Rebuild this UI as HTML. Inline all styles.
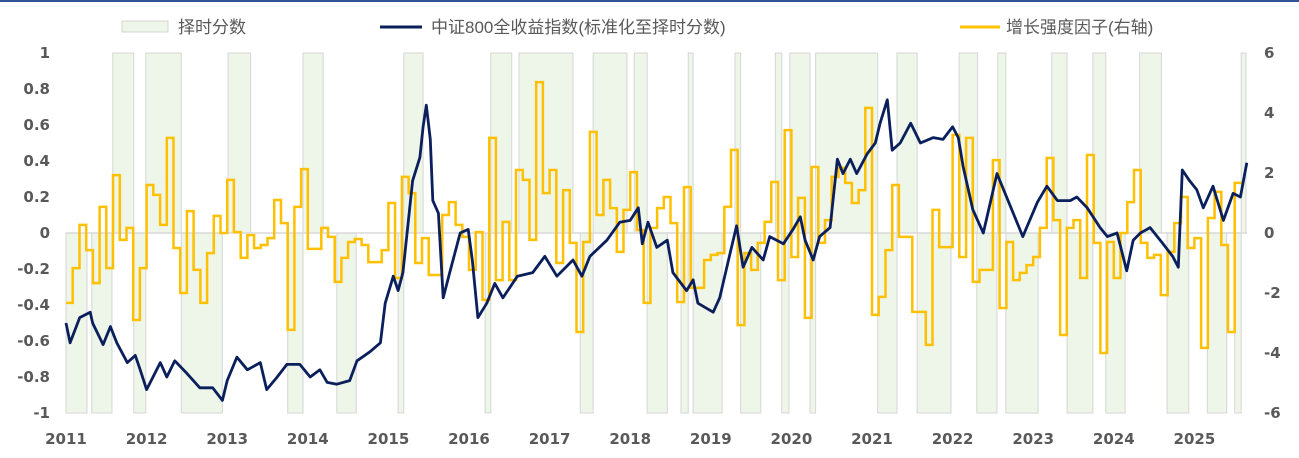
<!DOCTYPE html>
<html><head><meta charset="utf-8"><style>
html,body{margin:0;padding:0;background:#fff;}
body{width:1299px;height:453px;overflow:hidden;position:relative;font-family:"Liberation Sans","Noto Sans CJK SC",sans-serif;}
svg text{font-family:"DejaVu Sans","Liberation Sans",sans-serif;}
.lg{font-family:"Liberation Sans","Noto Sans CJK SC",sans-serif;font-size:17px;fill:#595959;}
</style></head><body>
<svg id="chart" width="1299" height="453" viewBox="0 0 1299 453" xmlns="http://www.w3.org/2000/svg">
<rect x="0" y="0" width="1299" height="2" fill="#2f5597"/>
<g id="legend">
<g>
<rect x="122" y="21" width="46" height="11" fill="#edf6e8" stroke="#d4d4d4"/>
<text class="lg" x="178" y="33">择时分数</text></g>
<g>
<line x1="380" y1="27" x2="422" y2="27" stroke="#0a1f5c" stroke-width="3"/>
<text class="lg" x="431" y="33">中证800全收益指数(标准化至择时分数)</text></g>
<g>
<line x1="960" y1="27" x2="1000" y2="27" stroke="#ffc000" stroke-width="3"/>
<text class="lg" x="1006" y="33">增长强度因子(右轴)</text></g>
</g>
<g id="bands"></g>
<line x1="66" y1="233" x2="1247" y2="233" stroke="#d9d9d9" stroke-width="1.5"/>
<g id="axes"></g>
<path id="yellow" fill="none" stroke="#ffc000" stroke-width="2.5" stroke-linejoin="miter"/>
<path id="blue" fill="none" stroke="#0a1f5c" stroke-width="2.8" stroke-linejoin="round"/>
</svg>
<script>
const leftTicks=[1,0.8,0.6,0.4,0.2,0,-0.2,-0.4,-0.6,-0.8,-1];
const leftTickLabels=["1","0.8","0.6","0.4","0.2","0","-0.2","-0.4","-0.6","-0.8","-1"];
const rightTicks=[6,4,2,0,-2,-4,-6];
const years=[2011,2012,2013,2014,2015,2016,2017,2018,2019,2020,2021,2022,2023,2024,2025];
const bandStart=[2011.05,2011.37,2011.63,2011.89,2012.04,2012.48,2013.06,2013.80,2013.99,2014.41,2015.17,2015.24,2016.25,2016.32,2016.67,2017.43,2017.59,2018.10,2018.26,2018.68,2018.77,2018.83,2019.35,2019.42,2019.85,2019.93,2020.03,2020.28,2020.35,2021.12,2021.36,2021.61,2022.13,2022.35,2022.61,2022.71,2023.28,2023.47,2023.79,2023.95,2024.37,2024.71,2025.21,2025.55,2025.63];
const bandEnd=[2011.31,2011.62,2011.89,2012.04,2012.48,2012.99,2013.34,2013.99,2014.24,2014.65,2015.24,2015.48,2016.32,2016.58,2017.34,2017.59,2018.01,2018.26,2018.51,2018.77,2018.83,2019.19,2019.42,2019.67,2019.93,2020.02,2020.28,2020.35,2021.12,2021.36,2021.61,2022.03,2022.36,2022.60,2022.71,2023.11,2023.47,2023.79,2023.95,2024.19,2024.64,2024.98,2025.45,2025.63,2025.69];
const bandScore=[-1,-1,1,-1,1,-1,1,-1,1,-1,-1,1,-1,1,1,-1,1,1,-1,-1,1,-1,1,-1,1,-1,1,-1,1,-1,1,-1,1,-1,1,-1,1,-1,1,-1,1,-1,-1,-1,1];
const idxDates=[2011.05,2011.10,2011.22,2011.35,2011.38,2011.51,2011.60,2011.68,2011.81,2011.91,2011.97,2012.05,2012.22,2012.30,2012.40,2012.55,2012.71,2012.87,2012.99,2013.05,2013.17,2013.30,2013.46,2013.54,2013.67,2013.79,2013.95,2014.08,2014.20,2014.29,2014.41,2014.57,2014.66,2014.82,2014.95,2015.01,2015.11,2015.17,2015.23,2015.35,2015.44,2015.48,2015.52,2015.57,2015.60,2015.67,2015.73,2015.81,2015.94,2016.04,2016.09,2016.16,2016.27,2016.37,2016.47,2016.65,2016.84,2016.99,2017.14,2017.34,2017.45,2017.55,2017.76,2017.92,2018.05,2018.15,2018.20,2018.27,2018.38,2018.51,2018.58,2018.75,2018.83,2018.89,2019.08,2019.16,2019.29,2019.37,2019.45,2019.56,2019.70,2019.78,2019.95,2020.07,2020.16,2020.22,2020.32,2020.40,2020.53,2020.62,2020.69,2020.78,2020.86,2020.99,2021.09,2021.15,2021.24,2021.30,2021.40,2021.53,2021.65,2021.81,2021.93,2022.05,2022.12,2022.18,2022.30,2022.43,2022.60,2022.72,2022.92,2023.10,2023.22,2023.35,2023.51,2023.59,2023.72,2023.88,2023.97,2024.09,2024.21,2024.29,2024.38,2024.50,2024.66,2024.78,2024.85,2024.90,2024.99,2025.08,2025.16,2025.28,2025.41,2025.53,2025.62,2025.70];
const idxValues=[-0.50,-0.61,-0.47,-0.44,-0.50,-0.62,-0.52,-0.61,-0.72,-0.68,-0.76,-0.87,-0.72,-0.80,-0.71,-0.78,-0.86,-0.86,-0.93,-0.82,-0.69,-0.76,-0.72,-0.87,-0.80,-0.73,-0.73,-0.80,-0.76,-0.83,-0.84,-0.82,-0.71,-0.66,-0.61,-0.39,-0.24,-0.32,-0.22,0.29,0.42,0.59,0.71,0.52,0.18,0.11,-0.36,-0.22,0,0.02,-0.15,-0.47,-0.39,-0.28,-0.36,-0.24,-0.22,-0.13,-0.24,-0.15,-0.24,-0.13,-0.04,0.06,0.07,0.14,-0.06,0.06,-0.08,-0.04,-0.22,-0.32,-0.26,-0.39,-0.44,-0.36,-0.11,0.04,-0.19,-0.08,-0.15,-0.02,-0.06,0.02,0.09,-0.04,-0.15,-0.02,0.03,0.41,0.33,0.41,0.33,0.44,0.50,0.61,0.74,0.46,0.50,0.61,0.50,0.53,0.52,0.59,0.53,0.37,0.13,0,0.33,0.20,-0.02,0.17,0.26,0.18,0.18,0.20,0.14,0.03,-0.02,0,-0.21,-0.04,0,0.03,-0.06,-0.13,-0.19,0.35,0.29,0.24,0.14,0.26,0.07,0.22,0.20,0.39];
const factorStart=2011.05;
const factorValues=[-2.33,-1.17,0.27,-0.57,-1.67,0.87,-1.17,1.93,-0.23,0.17,-2.9,-1.17,1.6,1.27,0.27,3.17,-0.5,-2.0,0.73,-1.23,-2.33,-0.67,0.57,0,1.77,0.03,-0.83,-0.07,-0.5,-0.4,-0.17,1.1,0.33,-3.23,0.87,2.13,-0.53,-0.53,0.17,-0.13,-1.63,-0.83,-0.3,-0.2,-0.4,-0.97,-0.97,-0.57,1.0,-1.5,1.87,1.33,-1.0,-0.17,-1.4,-1.4,0.6,1.03,0.27,-0.13,-1.23,0.03,-2.23,3.17,-1.57,0.37,-1.57,2.1,1.77,-0.23,5.03,1.33,2.1,-1.0,1.43,-0.33,-3.3,-0.3,3.37,0.6,1.77,0.83,-0.63,0.77,2.03,0.1,-2.33,0.17,0.83,1.2,0.33,-2.3,1.53,-1.83,-1.83,-0.9,-0.73,-0.67,0.87,2.77,-3.07,-0.67,-1.23,-0.33,0.37,1.7,-1.57,3.43,-0.8,1.17,-2.83,2.2,-0.33,0.43,1.87,2.17,1.67,1.0,1.43,4.17,-2.73,-2.13,-0.57,1.6,-0.13,-0.13,-2.63,-2.63,-3.73,0.77,-0.47,-0.47,3.27,-0.8,3.17,-1.63,-1.23,-1.23,2.43,-2.5,-0.3,-1.57,-1.33,-1.07,-0.8,0.17,2.5,0.43,-3.4,0.17,0.43,-1.5,2.6,-0.33,-4.0,-0.3,-1.5,0,1.03,2.1,-0.33,-0.83,-0.73,-2.07,-0.63,0.33,1.2,-0.5,-0.17,-3.83,0.5,1.37,-0.4,-3.3,1.67];

const NS='http://www.w3.org/2000/svg';
const X0=62,PXY=80.6,YZ=233,H=180;
function xS(t){return X0+(t-2011)*PXY;}
function yL(v){return YZ-v*H;}
function yR(v){return YZ-v*H/6;}
function mk(tag,attrs,parent){const e=document.createElementNS(NS,tag);for(const k in attrs)e.setAttribute(k,attrs[k]);parent.appendChild(e);return e;}

const bands=document.getElementById('bands');
for(let i=0;i<bandStart.length;i++){
  const x1=xS(bandStart[i]),x2=xS(bandEnd[i]);
  const y1=Math.min(yL(0),yL(bandScore[i])),h=Math.abs(yL(bandScore[i])-yL(0));
  const r=mk('rect',{x:x1,y:y1,width:x2-x1,height:h,fill:'#edf6e8',stroke:'#d6d6d6','stroke-width':1},bands);
  
  
}
const axes=document.getElementById('axes');
leftTicks.forEach((v,i)=>{
  const t=mk('text',{x:50,y:yL(v)+5,'text-anchor':'end','font-size':15,'font-weight':'bold',fill:'#595959'},axes);
  t.textContent=leftTickLabels[i];
  
  
});
rightTicks.forEach(v=>{
  const t=mk('text',{x:1264,y:yR(v)+5,'text-anchor':'start','font-size':15,'font-weight':'bold',fill:'#595959'},axes);
  t.textContent=String(v);
  
  
});
years.forEach(yv=>{
  const t=mk('text',{x:xS(yv)+4,y:444,'text-anchor':'middle','font-size':15,'font-weight':'bold',fill:'#595959'},axes);
  t.textContent=String(yv);
  
  
});
let d='';
idxDates.forEach((t,i)=>{d+=(i?'L':'M')+xS(t).toFixed(1)+' '+yL(idxValues[i]).toFixed(1);});
document.getElementById('blue').setAttribute('d',d);
let dy='';
factorValues.forEach((v,i)=>{
  const xa=xS(factorStart+i/12),xb=xS(factorStart+(i+1)/12),y=yR(v).toFixed(1);
  dy+=(i?'L':'M')+xa.toFixed(1)+' '+y+'L'+xb.toFixed(1)+' '+y;
});
document.getElementById('yellow').setAttribute('d',dy);
</script>
</body></html>
